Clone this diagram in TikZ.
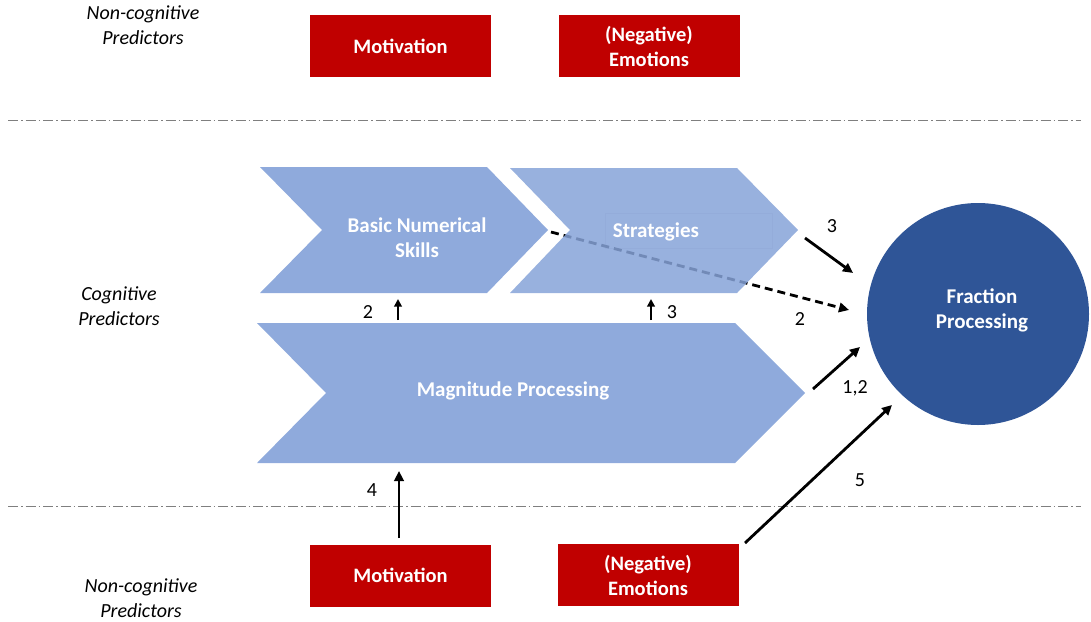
\documentclass[tikz,border=0pt]{standalone}
\usepackage{fontspec}
\setmainfont{Carlito}
\usetikzlibrary{arrows.meta}
\definecolor{boxred}{HTML}{C00000}
\definecolor{chevblue}{HTML}{8FAADC}
\definecolor{stratblue}{HTML}{86A3D8}
\definecolor{circblue}{HTML}{2F5597}
\definecolor{sepgray}{HTML}{7F7F7F}
\tikzset{
  predbox/.style={fill=boxred, minimum width=181pt, minimum height=62pt, inner sep=0pt,
    text=white, font=\fontsize{20.5}{25}\selectfont\bfseries, align=center},
  chevron/.style={fill=chevblue},
  chevtext/.style={text=white, font=\fontsize{21}{25}\selectfont\bfseries, align=center, inner sep=0pt},
  sidelabel/.style={font=\itshape, align=center, inner sep=0pt},
  numlabel/.style={inner sep=0pt},
  link/.style={line width=2.8pt, -{Triangle[length=10pt,width=9.5pt]}},
  shortlink/.style={line width=2.4pt, -{Triangle[length=7.5pt,width=7.5pt]}},
  dashlink/.style={line width=2.8pt, dash pattern=on 8pt off 5pt, -{Triangle[length=10pt,width=9.5pt]}},
  separator/.style={sepgray, line width=1pt, dash pattern=on 10pt off 3pt on 1.5pt off 3pt},
}
\begin{document}
\begin{tikzpicture}[x=1pt,y=-1pt]
\fontsize{20}{25}\selectfont
\useasboundingbox (0,0) rectangle (1091,621);

% section separators
\draw[separator] (8,120) -- (1081,120);
\draw[separator] (8,506) -- (1081,506);

% side labels
\node[sidelabel] (nctop) at (143,25) {Non-cognitive\\Predictors};
\node[sidelabel] (cog) at (119,306) {Cognitive\\Predictors};
\node[sidelabel] (ncbot) at (141,598) {Non-cognitive\\Predictors};

% non-cognitive predictor boxes
\node[predbox] (mottop) at (400.5,46) {Motivation};
\node[predbox] (emotop) at (649,46) {(Negative)\\Emotions};
\node[predbox] (motbot) at (400.5,575.5) {Motivation};
\node[predbox] (emobot) at (648,575) {(Negative)\\Emotions};

% cognitive chevrons
\fill[chevron] (260,167) -- (487,167) -- (548,230) -- (487,293) -- (260,293) -- (322,230) -- cycle;
\fill[chevron] (257,323) -- (735,323) -- (805,393) -- (735,463) -- (257,463) -- (326,393) -- cycle;
\node[chevtext] (bns) at (417,238) {Basic Numerical\\Skills};
\node[chevtext] (mag) at (513,391) {Magnitude Processing};

% outcome
\node[circle, fill=circblue, minimum size=222pt, inner sep=0pt] (fp) at (978,314) {};
\node[chevtext] (fptext) at (982,310) {Fraction\\Processing};

% free ends of the connectors
\coordinate (bnstip) at (551,232);
\coordinate (dashend) at (849,310);
\coordinate (stratout) at (805,238);
\coordinate (stratend) at (853,273);
\coordinate (magout) at (813,389);
\coordinate (magend) at (860,347);
\coordinate (emoout) at (745,543);
\coordinate (emoend) at (892,405);
\coordinate (bnsup0) at (398,320);
\coordinate (bnsup1) at (398,299);
\coordinate (stup0) at (651,320);
\coordinate (stup1) at (651,299);
\coordinate (motup0) at (399,538);
\coordinate (motup1) at (399,471);

% dashed path runs underneath the translucent strategies chevron
\draw[dashlink] (bnstip) -- (dashend);

\fill[stratblue, fill opacity=0.85] (510,168) -- (737,168) -- (798,230) -- (737,293) -- (510,293) -- (570,230) -- cycle;
\draw[stratblue!90!black, line width=0.4pt, opacity=0.12] (605,213) rectangle (772,248);
\node[chevtext] (strat) at (656,232) {Strategies};

% connectors
\draw[link] (stratout) -- (stratend);
\draw[link] (magout) -- (magend);
\draw[link] (emoout) -- (emoend);
\draw[shortlink] (bnsup0) -- (bnsup1);
\draw[shortlink] (stup0) -- (stup1);
\draw[link] (motup0) -- (motup1);

% study labels
\node[numlabel] (l3a) at (832,226) {3};
\node[numlabel] (l2a) at (800,319) {2};
\node[numlabel] (l12) at (855,388) {1,2};
\node[numlabel] (l5) at (860,480) {5};
\node[numlabel] (l2b) at (368,312) {2};
\node[numlabel] (l3b) at (672,312) {3};
\node[numlabel] (l4) at (372,490) {4};
\end{tikzpicture}
\end{document}
